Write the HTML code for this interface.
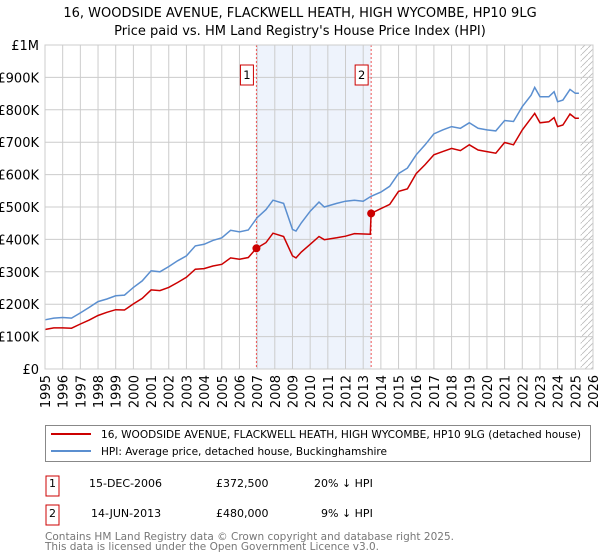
<!DOCTYPE html>
<html><head><meta charset="utf-8"><style>
body{margin:0;background:#fff;font-family:"Liberation Sans","DejaVu Sans",sans-serif;}
#wrap{position:relative;width:600px;height:560px;overflow:hidden;}
svg text{font-family:"DejaVu Sans","Liberation Sans",sans-serif;}
</style></head><body><div id="wrap">
<svg id="chart" width="600" height="560">
<text x="300" y="17" text-anchor="middle" font-size="13">16, WOODSIDE AVENUE, FLACKWELL HEATH, HIGH WYCOMBE, HP10 9LG</text>
<text x="300" y="35" text-anchor="middle" font-size="13">Price paid vs. HM Land Registry's House Price Index (HPI)</text>
<g id="grid"></g><g id="marks"></g>
<rect x="45.5" y="425.5" width="545" height="36" fill="none" stroke="#888"/>
<line x1="51" y1="434" x2="91" y2="434" stroke="#cc0000" stroke-width="2"/>
<text x="101" y="438" font-size="11" textLength="480" lengthAdjust="spacingAndGlyphs">16, WOODSIDE AVENUE, FLACKWELL HEATH, HIGH WYCOMBE, HP10 9LG (detached house)</text>
<line x1="51" y1="451" x2="91" y2="451" stroke="#5b8fd0" stroke-width="2"/>
<text x="101" y="455" font-size="11" textLength="286" lengthAdjust="spacingAndGlyphs">HPI: Average price, detached house, Buckinghamshire</text>
<rect x="46" y="476" width="13" height="20" fill="#fff" stroke="#cc0000"/>
<text x="52.5" y="487" font-size="11" text-anchor="middle">1</text>
<text x="89" y="487" font-size="11">15-DEC-2006</text>
<text x="216" y="487" font-size="11">£372,500</text>
<text x="314" y="487" font-size="11">20% ↓ HPI</text>
<rect x="46" y="505" width="13" height="20" fill="#fff" stroke="#cc0000"/>
<text x="52.5" y="517" font-size="11" text-anchor="middle">2</text>
<text x="91" y="517" font-size="11">14-JUN-2013</text>
<text x="216" y="517" font-size="11">£480,000</text>
<text x="321" y="517" font-size="11">9% ↓ HPI</text>
<text x="45" y="540" font-size="11" fill="#777" textLength="409" lengthAdjust="spacingAndGlyphs">Contains HM Land Registry data © Crown copyright and database right 2025.</text>
<text x="45" y="550" font-size="11" fill="#777" textLength="334" lengthAdjust="spacingAndGlyphs">This data is licensed under the Open Government Licence v3.0.</text>
</svg></div>
<script>
const yTicks=[0,100,200,300,400,500,600,700,800,900,1000];
const yTickLabels=["£0","£100K","£200K","£300K","£400K","£500K","£600K","£700K","£800K","£900K","£1M"];
const xYears=[1995,1996,1997,1998,1999,2000,2001,2002,2003,2004,2005,2006,2007,2008,2009,2010,2011,2012,2013,2014,2015,2016,2017,2018,2019,2020,2021,2022,2023,2024,2025,2026];
const hpiT=[1995,1995.5,1996,1996.5,1997,1997.5,1998,1998.5,1999,1999.5,2000,2000.5,2001,2001.5,2002,2002.5,2003,2003.5,2004,2004.5,2005,2005.5,2006,2006.5,2007,2007.5,2007.9,2008.5,2009,2009.2,2009.5,2010,2010.5,2010.8,2011.5,2012,2012.5,2013,2013.45,2014,2014.5,2015,2015.5,2016,2016.5,2017,2017.5,2018,2018.5,2019,2019.5,2020,2020.5,2021,2021.5,2022,2022.5,2022.7,2023,2023.5,2023.8,2024,2024.3,2024.7,2025,2025.2];
const hpiV=[152,157,159,157,173,190,208,216,226,228,252,272,303,300,316,334,349,380,385,397,405,428,423,429,467,492,521,511,431,426,451,487,515,500,511,518,521,518,533,546,564,603,620,661,692,726,738,748,743,760,743,738,735,767,764,810,845,869,840,840,856,825,830,863,851,851];
const propT=[1995,1995.5,1996,1996.5,1997,1997.5,1998,1998.5,1999,1999.5,2000,2000.5,2001,2001.5,2002,2002.5,2003,2003.5,2004,2004.5,2005,2005.5,2006,2006.5,2006.96,2007.5,2007.9,2008.5,2009,2009.2,2009.5,2010,2010.5,2010.8,2011.5,2012,2012.5,2013.4,2013.45,2014,2014.5,2015,2015.5,2016,2016.5,2017,2017.5,2018,2018.5,2019,2019.5,2020,2020.5,2021,2021.5,2022,2022.5,2022.7,2023,2023.5,2023.8,2024,2024.3,2024.7,2025,2025.2];
const propV=[122,127,127,126,139,151,165,175,183,182,201,218,244,242,252,267,283,308,310,318,323,343,339,344,372.5,390,419,409,349,343,361,385,409,399,405,410,418,416,480,495,508,548,556,603,631,661,671,681,674,692,676,671,666,699,692,738,774,789,760,763,776,748,753,787,774,774];
const saleT=[2006.96,2013.45];
const saleV=[372.5,480];
const saleLabels=["1","2"];
const X0=45,X1=593,Y0=369,Y1=45;
const xs=t=>X0+(t-1995)/(2026-1995)*(X1-X0);
const ys=v=>Y0-v/1000*(Y0-Y1);
const NS="http://www.w3.org/2000/svg";
function mk(tag,attrs,parent){const e=document.createElementNS(NS,tag);for(const k in attrs)e.setAttribute(k,attrs[k]);parent.appendChild(e);return e;}
const grid=document.getElementById('grid'),marks=document.getElementById('marks');
let r=mk('rect',{x:xs(saleT[0]),y:Y1,width:xs(saleT[1])-xs(saleT[0]),height:Y0-Y1,fill:'#eef3fc'},grid);


const defs=mk('defs',{},grid);
const pat=mk('pattern',{id:'hatch',width:6,height:6,patternUnits:'userSpaceOnUse'},defs);
mk('path',{d:'M0,6 L6,0',stroke:'#bbb','stroke-width':0.8},pat);
let hr=mk('rect',{x:xs(2025.3),y:Y1,width:X1-xs(2025.3),height:Y0-Y1,fill:'url(#hatch)'},grid);


yTicks.forEach((v,i)=>{
 const l=mk('line',{x1:X0,x2:X1,y1:ys(v),y2:ys(v),stroke:'#ccc'},grid);
 
 
 const t=mk('text',{x:39,y:ys(v)+5,'text-anchor':'end','font-size':13},grid);t.textContent=yTickLabels[i];
 
 
});
xYears.forEach(yr=>{
 const l=mk('line',{x1:xs(yr),x2:xs(yr),y1:Y1,y2:Y0,stroke:'#ccc'},grid);
 
 
 const t=mk('text',{x:0,y:0,'text-anchor':'end','font-size':13,transform:`translate(${xs(yr)+5},375) rotate(-90)`},grid);t.textContent=yr;
 
 
});
saleT.forEach((t,i)=>{
 const l=mk('line',{x1:xs(t),x2:xs(t),y1:Y1,y2:Y0,stroke:'#e55','stroke-dasharray':'2,2'},marks);
 
 
});
function line(T,V,col,name){const p=mk('polyline',{points:T.map((t,i)=>xs(t).toFixed(1)+','+ys(V[i]).toFixed(1)).join(' '),fill:'none',stroke:col,'stroke-width':1.5},marks);
 
 }
line(hpiT,hpiV,'#5b8fd0','hpi-line');
line(propT,propV,'#cc0000','property-price-line');
saleT.forEach((t,i)=>{
 const c=mk('circle',{cx:xs(t),cy:ys(saleV[i]),r:4,fill:'#cc0000'},marks);
 
 
 const bx=mk('rect',{x:xs(t)-16,y:65,width:13,height:20,fill:'#fff',stroke:'#cc0000'},marks);
 
 
 const tx=mk('text',{x:xs(t)-9.5,y:79,'text-anchor':'middle','font-size':11.5},marks);tx.textContent=saleLabels[i];
 
 
});
const ax=mk('rect',{x:X0,y:Y1,width:X1-X0,height:Y0-Y1,fill:'none',stroke:'#ccc'},marks);


</script></body></html>
